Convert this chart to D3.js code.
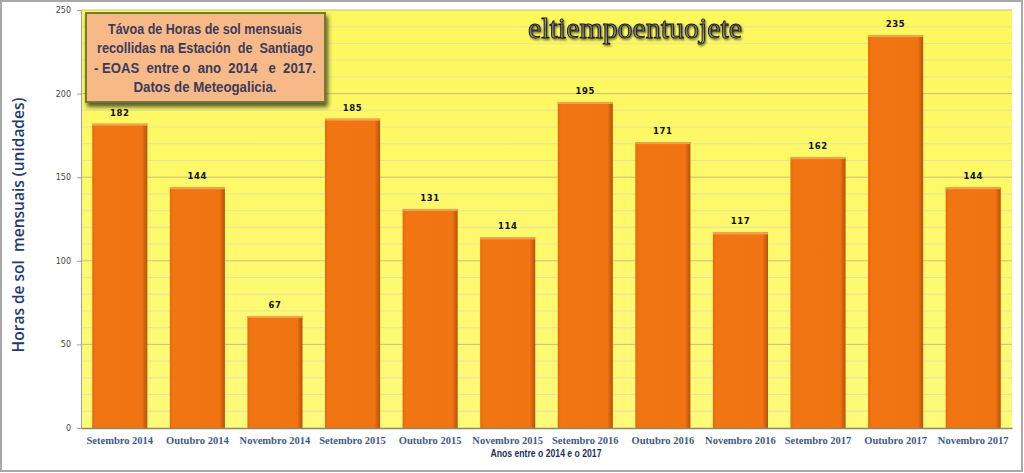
<!DOCTYPE html>
<html><head><meta charset="utf-8">
<script src="https://cdn.jsdelivr.net/npm/d3@7"></script>
<style>
html,body{margin:0;padding:0;background:#fff;}
svg{display:block;}
</style></head>
<body>
<svg id="chart" width="1024" height="473"></svg>
<script>
const categories = ["Setembro 2014","Outubro 2014","Novembro 2014","Setembro 2015","Outubro 2015","Novembro 2015","Setembro 2016","Outubro 2016","Novembro 2016","Setembro 2017","Outubro 2017","Novembro 2017"];
const values = [182,144,67,185,131,114,195,171,117,162,235,144];
const yTicks = [0,50,100,150,200,250];
const titleLines = ["Távoa de Horas de sol mensuais","recollidas na Estación  de  Santiago","- EOAS  entre o  ano  2014   e  2017.","Datos de Meteogalicia."];
const yTitle = "Horas de sol  mensuais (unidades)";
const xTitle = "Anos entre o 2014 e o 2017";
const watermark = "eltiempoentuojete";

const svg = d3.select("#chart");
const W=1024,H=473;
const m={left:81,right:1012,top:10,bottom:428};

// outer border
svg.append("rect").attr("x",1).attr("y",1).attr("width",W-3).attr("height",H-3)
  .attr("fill","#fff").attr("stroke","#a8a8a8").attr("stroke-width",2);

const x = d3.scaleBand().domain(categories).range([m.left,m.right]).paddingInner(0.29).paddingOuter(0.145);
const y = d3.scaleLinear().domain([0,250]).range([m.bottom,m.top]);

const defs = svg.append("defs");
const bg = defs.append("linearGradient").attr("id","bgGrad").attr("x1",0).attr("x2",0).attr("y1",0).attr("y2",1);
bg.append("stop").attr("offset","0%").attr("stop-color","#fdf85c");
bg.append("stop").attr("offset","100%").attr("stop-color","#fefa7a");
const bgrad = defs.append("linearGradient").attr("id","barGrad").attr("x1",0).attr("x2",1).attr("y1",0).attr("y2",0);
bgrad.append("stop").attr("offset","0%").attr("stop-color","#e8680c");
bgrad.append("stop").attr("offset","6%").attr("stop-color","#f27513");
bgrad.append("stop").attr("offset","90%").attr("stop-color","#f07412");
bgrad.append("stop").attr("offset","100%").attr("stop-color","#b5520a");
const sh = defs.append("filter").attr("id","shadow").attr("x","-10%").attr("y","-10%").attr("width","130%").attr("height","140%");
sh.append("feDropShadow").attr("dx",2).attr("dy",4).attr("stdDeviation",2).attr("flood-color","#222").attr("flood-opacity",0.75);
const ts = defs.append("filter").attr("id","wm").attr("x","-5%").attr("y","-20%").attr("width","110%").attr("height","150%");
ts.append("feDropShadow").attr("dx",1).attr("dy",1.5).attr("stdDeviation",0.8).attr("flood-color","#000").attr("flood-opacity",0.6);
const wg = defs.append("linearGradient").attr("id","wmGrad").attr("x1",0).attr("x2",0).attr("y1",0).attr("y2",1);
wg.append("stop").attr("offset","0%").attr("stop-color","#d0d0d0");
wg.append("stop").attr("offset","50%").attr("stop-color","#707070");
wg.append("stop").attr("offset","100%").attr("stop-color","#b8b8b8");

// plot background
svg.append("rect").attr("x",m.left).attr("y",m.top).attr("width",m.right-m.left).attr("height",m.bottom-m.top).attr("fill","url(#bgGrad)");

// minor gridlines
const minor = d3.range(10,250,10).filter(v=>v%50!==0);
svg.append("g").selectAll("line").data(minor).join("line")
  .attr("x1",m.left).attr("x2",m.right).attr("y1",d=>y(d)).attr("y2",d=>y(d))
  .attr("stroke","#e8e2a0").attr("stroke-width",1);
// major gridlines
svg.append("g").selectAll("line").data(yTicks.filter(v=>v>0)).join("line")
  .attr("x1",m.left).attr("x2",m.right).attr("y1",d=>y(d)).attr("y2",d=>y(d))
  .attr("stroke","#c9c07a").attr("stroke-width",1);

// bars
svg.append("g").selectAll("rect").data(values).join("rect")
  .attr("x",(d,i)=>x(categories[i])).attr("width",x.bandwidth())
  .attr("y",d=>y(d)).attr("height",d=>y(0)-y(d))
  .attr("fill","url(#barGrad)");
svg.append("g").selectAll("rect").data(values).join("rect")
  .attr("x",(d,i)=>x(categories[i])).attr("width",x.bandwidth())
  .attr("y",d=>y(d)).attr("height",2)
  .attr("fill","#f6a050");

// value labels
svg.append("g").selectAll("text").data(values).join("text")
  .attr("x",(d,i)=>x(categories[i])+x.bandwidth()/2).attr("y",d=>y(d)-8)
  .attr("text-anchor","middle").attr("font-family","Verdana, DejaVu Sans, sans-serif")
  .attr("font-weight","bold").attr("font-size",8.5).attr("letter-spacing",0.6).attr("fill","#111")
  .text(d=>d);

// y axis
const yAxis = d3.axisLeft(y).tickValues(yTicks).tickSize(4).tickPadding(6);
const ya = svg.append("g").attr("transform",`translate(${m.left},0)`).call(yAxis);
ya.select(".domain").attr("stroke","#a0a0a0");
ya.selectAll(".tick line").attr("stroke","#a0a0a0");
ya.selectAll("text").attr("font-family","Verdana, DejaVu Sans, sans-serif").attr("font-size",8).attr("fill","#444");

// x axis
const xAxis = d3.axisBottom(x).tickSize(0).tickPadding(9);
const xa = svg.append("g").attr("transform",`translate(0,${m.bottom})`).call(xAxis);
xa.select(".domain").attr("stroke","#8a8a6a").attr("stroke-width",1.5);
xa.selectAll("text").attr("font-family","Liberation Serif, Times New Roman, serif").attr("font-weight","bold")
  .attr("font-size",10.5).attr("fill","#3f5b85");

// axis titles
svg.append("text").attr("transform",`translate(24,${(m.top+m.bottom)/2+6}) rotate(-90)`)
  .attr("text-anchor","middle").attr("font-family","Open Sans, DejaVu Sans, sans-serif")
  .attr("font-size",15.5).attr("font-weight","600").attr("fill","#1f3a6e")
  .style("white-space","pre").text(yTitle);
svg.append("text").attr("x",546).attr("y",457).attr("text-anchor","middle")
  .attr("font-family","Liberation Sans, Arial, sans-serif").attr("font-weight","bold")
  .attr("font-size",10.5).attr("fill","#1f2f5e")
  .attr("textLength",111).attr("lengthAdjust","spacingAndGlyphs").text(xTitle);

// title box
const tb = svg.append("g");
tb.append("rect").attr("x",86).attr("y",13).attr("width",239).attr("height",89)
  .attr("fill","#f8b988").attr("stroke","#6f7d2a").attr("stroke-width",2).attr("filter","url(#shadow)");
const lineLens = [194,216,222,143];
tb.selectAll("text").data(titleLines).join("text")
  .attr("x",205).attr("y",(d,i)=>34+i*19.3).attr("text-anchor","middle")
  .attr("font-family","Liberation Sans, Arial, sans-serif").attr("font-weight","bold")
  .attr("font-size",14).attr("fill","#3c3c5a")
  .attr("textLength",(d,i)=>lineLens[i]).attr("lengthAdjust","spacingAndGlyphs")
  .style("white-space","pre").text(d=>d);

// watermark
svg.append("text").attr("x",635).attr("y",38).attr("text-anchor","middle")
  .attr("font-family","Liberation Serif, serif").attr("font-size",29)
  .attr("fill","url(#wmGrad)").attr("stroke","#1a1a1a").attr("stroke-width",0.9).attr("filter","url(#wm)")
  .attr("textLength",214).attr("lengthAdjust","spacingAndGlyphs").text(watermark);
</script>
</body></html>
